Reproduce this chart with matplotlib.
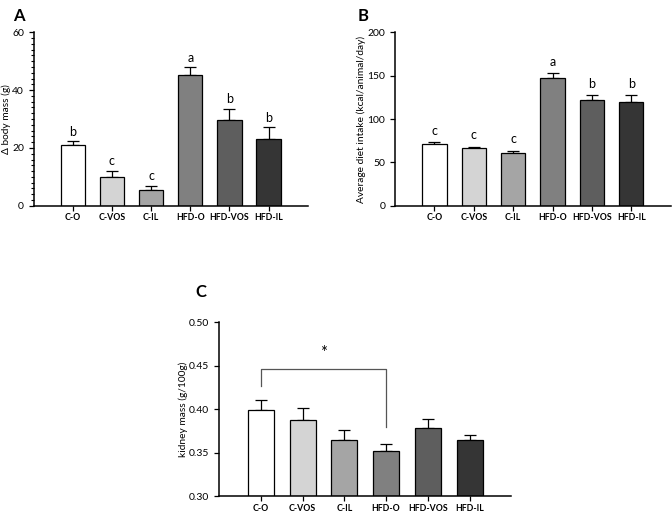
import matplotlib
matplotlib.use("Agg")
import matplotlib.pyplot as plt
from matplotlib.ticker import MultipleLocator, FormatStrFormatter

plt.rcParams.update({"font.family": ["Lato", "DejaVu Sans"], "font.size": 7})

GROUPS = ["C-O", "C-VOS", "C-IL", "HFD-O", "HFD-VOS", "HFD-IL"]
COLORS = ["#ffffff", "#d4d4d4", "#a5a5a5", "#808080", "#5e5e5e", "#353535"]

body_mass = [21.0, 9.9, 5.3, 45.3, 29.5, 23.2]
body_mass_err = [1.3, 2.2, 1.7, 2.6, 4.1, 3.9]
body_mass_letters = ["b", "c", "c", "a", "b", "b"]

diet_intake = [71.6, 66.3, 61.3, 147.5, 121.8, 119.9]
diet_intake_err = [2.0, 1.9, 2.3, 5.0, 5.4, 8.1]
diet_intake_letters = ["c", "c", "c", "a", "b", "b"]

kidney_mass = [0.399, 0.388, 0.364, 0.352, 0.378, 0.364]
kidney_mass_err = [0.011, 0.013, 0.012, 0.008, 0.011, 0.006]


def bar_panel(ax, vals, errs, ylim, major, ylabel, minor=None):
    x = range(len(GROUPS))
    base = ylim[0]
    ax.bar(x, [v - base for v in vals], 0.62, bottom=base,
           color=COLORS, edgecolor="black", linewidth=0.9, zorder=2)
    ax.errorbar(x, vals, yerr=[[0] * len(errs), errs], fmt="none",
                ecolor="black", elinewidth=0.9, capsize=4.5, capthick=0.9, zorder=1)
    ax.set_xlim(-1.0, 6.0)
    ax.set_ylim(*ylim)
    ax.yaxis.set_major_locator(MultipleLocator(major))
    if minor:
        ax.yaxis.set_minor_locator(MultipleLocator(minor))
        ax.tick_params(axis="y", which="minor", length=2, width=0.8)
    ax.set_xticks(list(x))
    ax.set_xticklabels(GROUPS, fontweight="bold", fontsize=6.3)
    ax.tick_params(axis="both", which="major", length=3.5, width=0.9, labelsize=7.5)
    ax.tick_params(axis="x", pad=2, labelsize=6.3)
    ax.set_ylabel(ylabel, fontsize=7.3, labelpad=1)
    for s in ("top", "right"):
        ax.spines[s].set_visible(False)
    for s in ("left", "bottom"):
        ax.spines[s].set_linewidth(1.1)


fig = plt.figure(figsize=(6.72, 5.12), dpi=100)

axA = fig.add_axes([0.05, 0.598, 0.408, 0.339])
bar_panel(axA, body_mass, body_mass_err, (0, 60), 20, "Δ body mass (g)", minor=2)
for i, (v, e, l) in enumerate(zip(body_mass, body_mass_err, body_mass_letters)):
    axA.text(i, v + e + 1.2, l, ha="center", va="bottom", fontsize=9)

axB = fig.add_axes([0.588, 0.598, 0.41, 0.339])
bar_panel(axB, diet_intake, diet_intake_err, (0, 200), 50,
          "Average diet intake (kcal/animal/day)")
for i, (v, e, l) in enumerate(zip(diet_intake, diet_intake_err, diet_intake_letters)):
    axB.text(i, v + e + 6, l, ha="center", va="bottom", fontsize=9)

axC = fig.add_axes([0.326, 0.031, 0.435, 0.34])
bar_panel(axC, kidney_mass, kidney_mass_err, (0.30, 0.50), 0.05, "kidney mass (g/100g)")
axC.yaxis.set_major_formatter(FormatStrFormatter("%.2f"))
axC.plot([0, 0, 3, 3], [0.427, 0.446, 0.446, 0.379], color="#555555", lw=0.9)
axC.text(1.5, 0.455, "*", ha="center", va="bottom", fontsize=12)

fig.text(0.02, 0.985, "A", fontsize=12, fontweight="bold", va="top")
fig.text(0.532, 0.985, "B", fontsize=12, fontweight="bold", va="top")
fig.text(0.29, 0.445, "C", fontsize=12, fontweight="bold", va="top")

fig.savefig("out.png", dpi=100)
